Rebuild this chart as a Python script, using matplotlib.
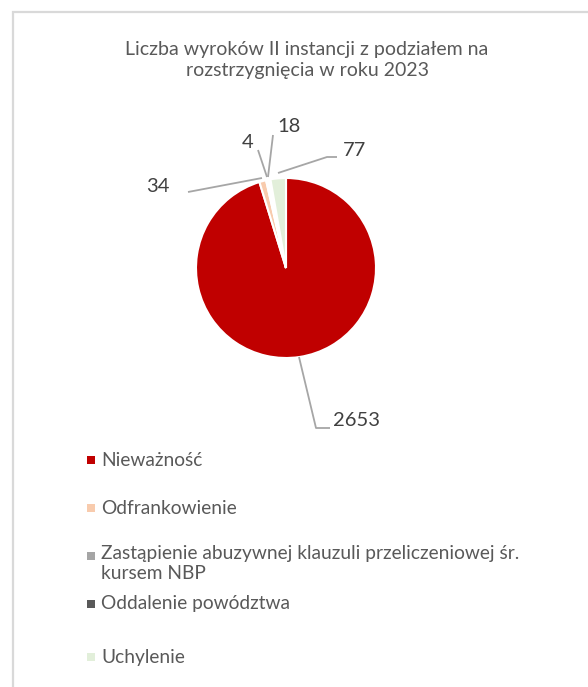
import matplotlib
matplotlib.use("Agg")
import matplotlib.pyplot as plt
from matplotlib.patches import Rectangle

# ---- data ----
categories = [
    "Nieważność",
    "Odfrankowienie",
    "Zastąpienie abuzywnej klauzuli przeliczeniowej śr.\nkursem NBP",
    "Oddalenie powództwa",
    "Uchylenie",
]
values = [2653, 34, 4, 18, 77]
legend_colors = ["#C00000", "#F8CBAD", "#A5A5A5", "#595959", "#E2EFDA"]
# the two tiny grey slices render as blank gaps in the original
wedge_colors = ["#C00000", "#F8CBAD", "#FFFFFF", "#FFFFFF", "#E2EFDA"]
title = "Liczba wyroków II instancji z podziałem na\nrozstrzygnięcia w roku 2023"

plt.rcParams["font.family"] = ["Lato", "DejaVu Sans"]
W, H = 588, 687
fig = plt.figure(figsize=(W / 100, H / 100), dpi=100)
ax = fig.add_axes([0, 0, 1, 1])


def Y(y):  # pixel row (top-down) -> data y
    return H - y


# frame of chart area
ax.add_patch(Rectangle((12.5, -5), W, Y(12) + 5, fill=False,
                       edgecolor="#D9D9D9", linewidth=1.6))

ax.text(307, Y(60), title, ha="center", va="center", fontsize=14,
        color="#595959", linespacing=1.3)

wedges, _ = ax.pie(values, colors=wedge_colors, startangle=90, counterclock=False,
                   center=(286, Y(268)), radius=90,
                   wedgeprops=dict(edgecolor="white", linewidth=1.5), frame=True)
ax.set_xlim(0, W)
ax.set_ylim(0, H)
ax.set_aspect("equal")
ax.axis("off")

# data labels with leader lines
leaders = [
    [(330, 428), (316, 428), (299, 357)],
    [(188, 192), (262, 178)],
    [(258, 150), (267, 177)],
    [(273, 135), (268, 177)],
    [(337, 157), (327, 157), (278, 173)],
]
label_pos = [(357, 420), (158, 186), (248, 143), (289, 127), (354, 151)]
for v, pts, (tx, ty) in zip(values, leaders, label_pos):
    xs = [p[0] for p in pts]
    ys = [Y(p[1]) for p in pts]
    ax.plot(xs, ys, color="#A6A6A6", linewidth=1.3, solid_capstyle="butt")
    ax.text(tx, Y(ty), f"{v}", ha="center", va="center", fontsize=14.5,
            color="#404040")

# legend (manual, to follow the uneven spacing of the original)
leg_y = [460, 508, 556, 604, 657]
for lab, c, y in zip(categories, legend_colors, leg_y):
    ax.add_patch(Rectangle((87, Y(y) - 4), 8, 8, facecolor=c, edgecolor="none"))
    two = "\n" in lab
    ax.text(101, Y(y) + (11 if two else 0), lab, ha="left",
            va="top" if two else "center",
            fontsize=13.8, color="#595959", linespacing=1.22)

fig.savefig("out.png", dpi=100)
